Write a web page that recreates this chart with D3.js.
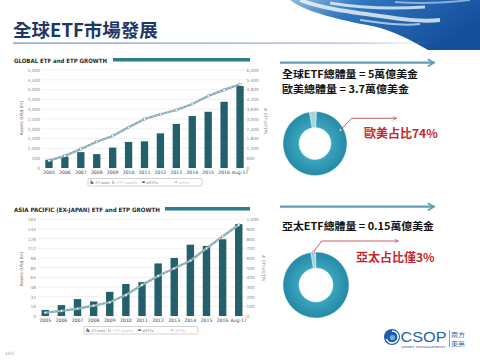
<!DOCTYPE html>
<html><head><meta charset="utf-8">
<script src="https://cdn.jsdelivr.net/npm/d3@7"></script>
<style>html,body{margin:0;padding:0;background:#fff;}svg{display:block;}</style>
</head><body>
<svg id="c" width="480" height="360"></svg>
<script>
// ---- data ----
const years = ["2005","2006","2007","2008","2009","2010","2011","2012","2013","2014","2015","2016","Aug-17"];
const globalAssets = [420,580,810,710,1040,1330,1360,1770,2250,2650,2870,3380,4180];
const globalETPs = [450,740,1160,1610,1960,2490,3000,3290,3550,3920,4410,4780,5130];
const apacAssets = [10,18,28,24,40,53,56,87,96,118,116,127,152];
const apacETPs = [34,52,75,107,142,217,321,414,493,572,700,824,941];
const globalLeftTicks = [0,500,1000,1500,2000,2500,3000,3500,4000,4500,5000];
const globalRightTicks = [0,600,1200,1800,2400,3000,3600,4200,4800,5400,6000];
const apacLeftTicks = [0,16,32,48,64,80,96,112,128,144,160];
const apacRightTicks = [0,100,200,300,400,500,600,700,800,900,1000];
const legendItems = ["ETF Assets","ETP Assets","#ETFs","#ETPs"];
const donutTop = [3.6, 96.4];
const donutBottom = [2.4, 97.6];
const pageTitle = "全球ETF市場發展";
const globalTitle = "GLOBAL ETF and ETP GROWTH";
const apacTitle = "ASIA PACIFIC (EX-JAPAN) ETF and ETP GROWTH";
const infoTop = ["全球ETF總體量 = 5萬億美金","歐美總體量 = 3.7萬億美金"];
const infoBottom = ["亞太ETF總體量 = 0.15萬億美金"];
const calloutTop = "歐美占比74%";
const calloutBottom = "亞太占比僅3%";
const logoCJK = ["南方","東英"];

const svg = d3.select("#c");
const defs = svg.append("defs");
const CJK = "'Noto Sans CJK TC','Noto Sans CJK SC',sans-serif";
const SANS = "'DejaVu Sans','Liberation Sans',sans-serif";

// ---- decorative brush top-right ----
const bg = defs.append("linearGradient").attr("id","brush").attr("x1","0").attr("y1","0").attr("x2","1").attr("y2","0.4");
bg.append("stop").attr("offset","0").attr("stop-color","#8dbbe0");
bg.append("stop").attr("offset","0.35").attr("stop-color","#2f74bd");
bg.append("stop").attr("offset","1").attr("stop-color","#154f9c");
const brush = svg.append("g");
brush.append("path").attr("d","M290,0 C305,12 340,20 372,26 C395,31 410,40 428,50 L480,50 L480,0 Z").attr("fill","url(#brush)");
brush.append("path").attr("d","M300,0 C320,8 350,12 380,16 C400,19 420,22 440,20").attr("fill","none").attr("stroke","#ffffff").attr("stroke-width",4).attr("opacity",0.75);
brush.append("path").attr("d","M330,3 C360,8 395,9 425,7").attr("fill","none").attr("stroke","#e8f2fb").attr("stroke-width",3).attr("opacity",0.8);
brush.append("path").attr("d","M360,20 C385,23 400,26 420,24").attr("fill","none").attr("stroke","#dfeefa").attr("stroke-width",2).attr("opacity",0.7);
brush.append("path").attr("d","M395,2 C420,4 445,3 470,0").attr("fill","none").attr("stroke","#cfe3f5").attr("stroke-width",2).attr("opacity",0.6);

// ---- page title ----
svg.append("text").attr("x",13).attr("y",37).attr("font-family",CJK).attr("font-weight",700)
  .attr("font-size",18.5).attr("fill","#1d3766").text(pageTitle);
const ug = defs.append("linearGradient").attr("id","ul").attr("x1","0").attr("x2","1");
ug.append("stop").attr("offset","0").attr("stop-color","#6f8fbf");
ug.append("stop").attr("offset","0.8").attr("stop-color","#9fb6d6");
ug.append("stop").attr("offset","1").attr("stop-color","#9fb6d6").attr("stop-opacity",0);
svg.append("rect").attr("x",13).attr("y",42.5).attr("width",420).attr("height",1.2).attr("fill","url(#ul)");

// ---- chart builder ----
function chart(o){
  const g = svg.append("g");
  g.append("text").attr("x",14).attr("y",o.titleY).attr("font-family",SANS).attr("font-weight",700)
    .attr("font-size",6).attr("fill","#2b2b2b").attr("textLength",o.titleW).attr("lengthAdjust","spacingAndGlyphs").text(o.title);
  g.append("rect").attr("x",o.barX).attr("y",o.titleY-5).attr("width",250-o.barX).attr("height",3.5).attr("fill","#2f7d8d");
  const x = d3.scaleBand().domain(years).range(o.xr).paddingInner(0.54).paddingOuter(0.27);
  const yL = d3.scaleLinear().domain([0, o.lt[o.lt.length-1]]).range([o.y0,o.y1]);
  const yR = d3.scaleLinear().domain([0, o.rt[o.rt.length-1]]).range([o.y0,o.y1]);
  g.append("g").selectAll("line").data(o.lt).join("line")
    .attr("x1",o.gx0).attr("x2",246).attr("y1",d=>yL(d)).attr("y2",d=>yL(d))
    .attr("stroke","#e6e6e6").attr("stroke-width",0.6);
  const la = g.append("g").attr("transform",`translate(${o.lx},0)`)
    .call(d3.axisLeft(yL).tickValues(o.lt).tickFormat(d3.format(",")).tickSize(0).tickPadding(0));
  la.select(".domain").remove();
  la.selectAll("text").attr("font-family",SANS).attr("font-size",4.3).attr("fill","#8a8a8a");
  const ra = g.append("g").attr("transform",`translate(246,0)`)
    .call(d3.axisRight(yR).tickValues(o.rt).tickFormat(d3.format(",")).tickSize(0).tickPadding(0.5));
  ra.select(".domain").remove();
  ra.selectAll("text").attr("font-family",SANS).attr("font-size",4.3).attr("fill","#8a8a8a");
  g.append("text").attr("transform",`translate(${o.atx},${o.aty}) rotate(-90)`).attr("text-anchor","middle")
    .attr("font-family",SANS).attr("font-size",4.3).attr("fill","#666").text("Assets (US$ Bn)");
  g.append("text").attr("transform",`translate(${o.rtx},${o.rty}) rotate(90)`).attr("text-anchor","middle")
    .attr("font-family",SANS).attr("font-size",4.3).attr("fill","#888").text("# ETFs/ETPs");
  g.append("g").selectAll("rect").data(o.bars).join("rect")
    .attr("x",(d,i)=>x(years[i])).attr("width",x.bandwidth())
    .attr("y",d=>yL(d)).attr("height",d=>yL(0)-yL(d)).attr("fill","#23606c");
  const xa = g.append("g").attr("transform",`translate(0,${o.y0+1})`).call(d3.axisBottom(x).tickSize(0).tickPadding(2));
  xa.select(".domain").remove();
  xa.selectAll("text").attr("font-family",SANS).attr("font-size",4.6).attr("fill","#444");
  const line = d3.line().x((d,i)=>x(years[i])+x.bandwidth()/2).y(d=>yR(d));
  g.append("path").datum(o.line).attr("d",line).attr("fill","none").attr("stroke","#86a9b2").attr("stroke-width",2.3);
  g.append("path").datum(o.line).attr("d",line).attr("fill","none").attr("stroke","#c9dadf").attr("stroke-width",0.7).attr("stroke-dasharray","2,2");
  g.append("g").selectAll("rect").data(o.line).join("rect")
    .attr("x",(d,i)=>x(years[i])+x.bandwidth()/2-1.1).attr("y",d=>yR(d)-1.1)
    .attr("width",2.2).attr("height",2.2).attr("fill","#fff").attr("stroke","#5f8a95").attr("stroke-width",0.4);
  const lg = g.append("g").attr("transform",`translate(${o.legX},${o.legY})`);
  lg.append("rect").attr("width",114).attr("height",7.5).attr("rx",1).attr("fill","#fff").attr("stroke","#b5b5b5").attr("stroke-width",0.6);
  const offs = [2.5,24,53.5,86];
  const tlen = [14,20,11,10];
  legendItems.forEach((t,i)=>{
    const faint = (i%2===1);
    const c = faint ? "#c4c4c4" : "#555";
    const ix = offs[i];
    if(i<2){
      lg.append("rect").attr("x",ix).attr("y",2).attr("width",1.2).attr("height",3.5).attr("fill",c);
      lg.append("rect").attr("x",ix+1.6).attr("y",3.2).attr("width",1.2).attr("height",2.3).attr("fill",c);
    } else {
      lg.append("path").attr("d",`M${ix},3.7 L${ix+4},3.7`).attr("stroke",c).attr("stroke-width",0.8);
      lg.append("rect").attr("x",ix+1.3).attr("y",2.9).attr("width",1.6).attr("height",1.6).attr("fill",c);
    }
    lg.append("text").attr("x",ix+5).attr("y",5.2).attr("font-family",SANS).attr("font-size",3.6)
      .attr("fill",faint?"#c4c4c4":"#777").attr("textLength",tlen[i]).attr("lengthAdjust","spacingAndGlyphs").text(t);
  });
}

chart({title:globalTitle,titleY:63,titleW:93,barX:113,xr:[41,248],y0:168,y1:70,gx0:42,lx:40,
  lt:globalLeftTicks,rt:globalRightTicks,bars:globalAssets,line:globalETPs,atx:23,aty:118,rtx:264,rty:121,legX:88,legY:178.5});
chart({title:apacTitle,titleY:212,titleW:146,barX:165,xr:[37.2,246.8],y0:316,y1:219.3,gx0:38,lx:36,
  lt:apacLeftTicks,rt:apacRightTicks,bars:apacAssets,line:apacETPs,atx:23,aty:269,rtx:262,rty:268,legX:84,legY:326.5});

// ---- right side ----
const am = defs.append("marker").attr("id","arT").attr("viewBox","0 0 10 10").attr("refX",8).attr("refY",5)
  .attr("markerWidth",4).attr("markerHeight",4).attr("orient","auto").attr("markerUnits","strokeWidth");
am.append("path").attr("d","M1,1 L8,5 L1,9").attr("fill","none").attr("stroke","#5e9db3").attr("stroke-width",2);
const rm = defs.append("marker").attr("id","arR").attr("viewBox","0 0 10 10").attr("refX",9).attr("refY",5)
  .attr("markerWidth",6).attr("markerHeight",6).attr("orient","auto").attr("markerUnits","strokeWidth");
rm.append("path").attr("d","M1,1 L9,5 L1,9").attr("fill","none").attr("stroke","#b33a40").attr("stroke-width",1.2);

const rg = defs.append("radialGradient").attr("id","don").attr("cx","0.5").attr("cy","0.5").attr("r","0.5");
rg.append("stop").attr("offset","0.5").attr("stop-color","#3aa6bf");
rg.append("stop").attr("offset","1").attr("stop-color","#2589a6");

function block(o){
  const g = svg.append("g");
  g.append("line").attr("x1",280).attr("x2",434).attr("y1",o.arY).attr("y2",o.arY)
    .attr("stroke","#5e9db3").attr("stroke-width",2.2).attr("marker-end","url(#arT)");
  o.info.forEach((t,i)=>{
    g.append("text").attr("x",282).attr("y",o.infoY+i*14.8).attr("font-family",CJK).attr("font-weight",700)
      .attr("font-size",10.2).attr("fill","#111").attr("textLength",o.infoW[i]).attr("lengthAdjust","spacingAndGlyphs").text(t);
  });
  const pie = d3.pie().sort(null).startAngle(o.sa).endAngle(o.sa+2*Math.PI);
  const arc = d3.arc().innerRadius(o.ri).outerRadius(o.ro);
  const dg = g.append("g").attr("transform",`translate(${o.cx},${o.cy})`);
  dg.selectAll("path").data(pie(o.data)).join("path").attr("d",arc)
    .attr("fill",(d,i)=>i===0?"#a8d2de":"url(#don)").attr("stroke","#e9f4f7").attr("stroke-width",0.5);
  g.append("path").attr("d",`M${o.p[0]},${o.p[1]} L${o.p[2]},${o.p[3]} L${o.p[4]},${o.p[3]}`)
    .attr("fill","none").attr("stroke","#b33a40").attr("stroke-width",0.8).attr("marker-end","url(#arR)");
  g.append("circle").attr("cx",o.p[0]).attr("cy",o.p[1]).attr("r",1.2).attr("fill","#fff").attr("stroke","#7a4a55").attr("stroke-width",0.5);
  g.append("text").attr("x",o.cX).attr("y",o.cY).attr("font-family",CJK).attr("font-weight",700)
    .attr("font-size",12).attr("fill","#c4262d").text(o.callout);
}
block({arY:62.7,info:infoTop,infoW:[136,127],infoY:78.3,cx:315,cy:143.5,ro:32,ri:16,data:donutTop,sa:-0.18,
  p:[340.5,130,351.5,118.3,396.5],callout:calloutTop,cX:364,cY:137.5});
block({arY:206.7,info:infoBottom,infoW:[152],infoY:230,cx:316,cy:285,ro:33,ri:17,data:donutBottom,sa:-0.16,
  p:[313.3,252.3,321.7,241,398.3],callout:calloutBottom,cX:356,cY:262});

// ---- logo ----
const lgG = svg.append("g");
lgG.append("circle").attr("cx",392).attr("cy",337).attr("r",8).attr("fill","#1f5fae");
lgG.append("path").attr("d","M392,331 A6,6 0 1 1 386.5,339").attr("fill","none").attr("stroke","#fff").attr("stroke-width",1.6);
lgG.append("circle").attr("cx",392.5).attr("cy",337.5).attr("r",2.6).attr("fill","#6fb0e0");
lgG.append("text").attr("x",400.5).attr("y",341.5).attr("font-family","'Liberation Sans',Arial,sans-serif")
  .attr("font-size",15).attr("fill","#2563ad").attr("textLength",46).attr("lengthAdjust","spacingAndGlyphs").text("CSOP");
lgG.append("text").attr("x",401.5).attr("y",347.6).attr("font-family",SANS).attr("font-size",2.8).attr("fill","#2563ad")
  .attr("textLength",44).attr("lengthAdjust","spacingAndGlyphs").text("ASSET MANAGEMENT");
lgG.append("line").attr("x1",449.5).attr("x2",449.5).attr("y1",330).attr("y2",347).attr("stroke","#2563ad").attr("stroke-width",0.6);
logoCJK.forEach((t,i)=>{
  lgG.append("text").attr("x",451).attr("y",337.3+i*8.4).attr("font-family",CJK).attr("font-size",5.7)
    .attr("fill","#2563ad").attr("textLength",14).attr("lengthAdjust","spacingAndGlyphs").text(t);
});

svg.append("text").attr("x",5).attr("y",355).attr("font-family",SANS).attr("font-size",4.5).attr("fill","#999").text("103");
</script>
</body></html>
